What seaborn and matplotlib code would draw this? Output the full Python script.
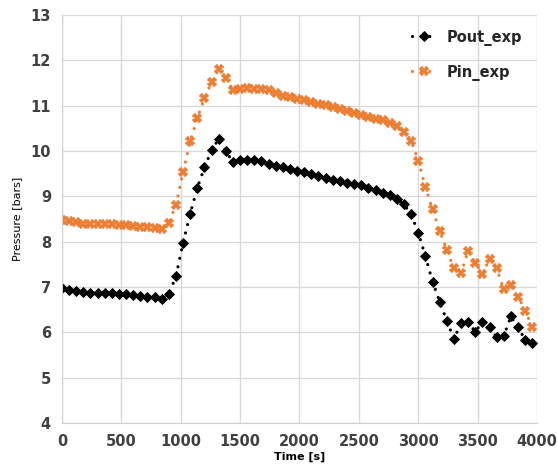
import pandas as pd
import seaborn as sns
import matplotlib.pyplot as plt

# Sampling times [s]
time_s = [0, 60, 120, 180, 240, 300, 360, 420, 480, 540, 600, 660, 720, 780, 840,
          900, 960, 1020, 1080, 1140, 1200, 1260, 1320, 1380, 1440, 1500, 1560, 1620, 1680,
          1740, 1800, 1860, 1920, 1980, 2040, 2100, 2160, 2220, 2280, 2340, 2400, 2460,
          2520, 2580, 2640, 2700, 2760, 2820, 2880, 2940,
          3000, 3060, 3120, 3180, 3240, 3300, 3360, 3420, 3480, 3540, 3600, 3660, 3720,
          3780, 3840, 3900, 3960]

# Outlet pressure [bars]
pout_exp = [6.97, 6.94, 6.92, 6.88, 6.86, 6.87, 6.87, 6.86, 6.85, 6.84, 6.82, 6.81, 6.79, 6.78, 6.73,
            6.84, 7.24, 7.98, 8.62, 9.19, 9.64, 10.02, 10.27, 10.00, 9.75, 9.80, 9.81, 9.81, 9.79,
            9.71, 9.67, 9.64, 9.60, 9.56, 9.53, 9.49, 9.45, 9.40, 9.37, 9.33, 9.30, 9.27,
            9.24, 9.19, 9.14, 9.08, 9.02, 8.94, 8.82, 8.60,
            8.20, 7.68, 7.12, 6.68, 6.26, 5.85, 6.21, 6.23, 6.01, 6.23, 6.12, 5.89, 5.92,
            6.35, 6.12, 5.83, 5.77]

# Inlet pressure [bars]
pin_exp = [8.47, 8.45, 8.43, 8.40, 8.38, 8.38, 8.38, 8.38, 8.37, 8.36, 8.35, 8.33, 8.32, 8.30, 8.27,
           8.42, 8.81, 9.54, 10.21, 10.73, 11.16, 11.53, 11.82, 11.60, 11.35, 11.37, 11.38, 11.37, 11.36,
           11.34, 11.27, 11.22, 11.20, 11.15, 11.12, 11.09, 11.04, 11.01, 10.96, 10.92, 10.88, 10.84,
           10.79, 10.75, 10.71, 10.68, 10.62, 10.55, 10.43, 10.22,
           9.79, 9.21, 8.71, 8.24, 7.82, 7.41, 7.30, 7.80, 7.54, 7.29, 7.62, 7.41, 6.95,
           7.04, 6.79, 6.48, 6.12]

sns.set_style("whitegrid")
plt.rcParams["font.family"] = ["DejaVu Sans"]

df = pd.DataFrame({"Time": time_s, "Pout_exp": pout_exp, "Pin_exp": pin_exp})

fig = plt.figure(figsize=(5.57, 4.75), dpi=100)
ax = fig.add_axes([0.1113, 0.1095, 0.8528, 0.8589])

dot_style = (0, (0.01, 2.7))

sns.lineplot(data=df, x="Time", y="Pout_exp", ax=ax, color="black",
             marker="D", markersize=5.5, markeredgewidth=0.6, markeredgecolor="black",
             linewidth=2.3, linestyle=dot_style, dash_capstyle="round",
             label="Pout_exp")
sns.lineplot(data=df, x="Time", y="Pin_exp", ax=ax, color="#ED7D31",
             marker="X", markersize=6.8, markeredgewidth=0.3, markeredgecolor="#ED7D31",
             linewidth=2.3, linestyle=dot_style, dash_capstyle="round",
             label="Pin_exp")

ax.set_xlim(0, 4000)
ax.set_ylim(4, 13)
ax.set_xticks(range(0, 4001, 500))
ax.set_yticks(range(4, 14))
ax.grid(True, color="#d9d9d9", linewidth=1)
for side in ["top", "right"]:
    ax.spines[side].set_visible(False)
for side in ["left", "bottom"]:
    ax.spines[side].set_color("#d0d0d0")
ax.tick_params(axis="both", length=0, labelsize=10.5, colors="#404040", pad=8)
for lbl in ax.get_xticklabels() + ax.get_yticklabels():
    lbl.set_fontweight("bold")

ax.set_xlabel("Time [s]", fontsize=8, fontweight="bold", color="black", labelpad=2)
ax.set_ylabel("Pressure [bars]", fontsize=8, color="black", labelpad=6)

leg = ax.legend(loc="upper right", frameon=False,
                prop={"weight": "bold", "size": 10.5}, handlelength=1.6,
                labelspacing=1.3, borderaxespad=0.6)

plt.savefig("out.png", dpi=100)
plt.close()
